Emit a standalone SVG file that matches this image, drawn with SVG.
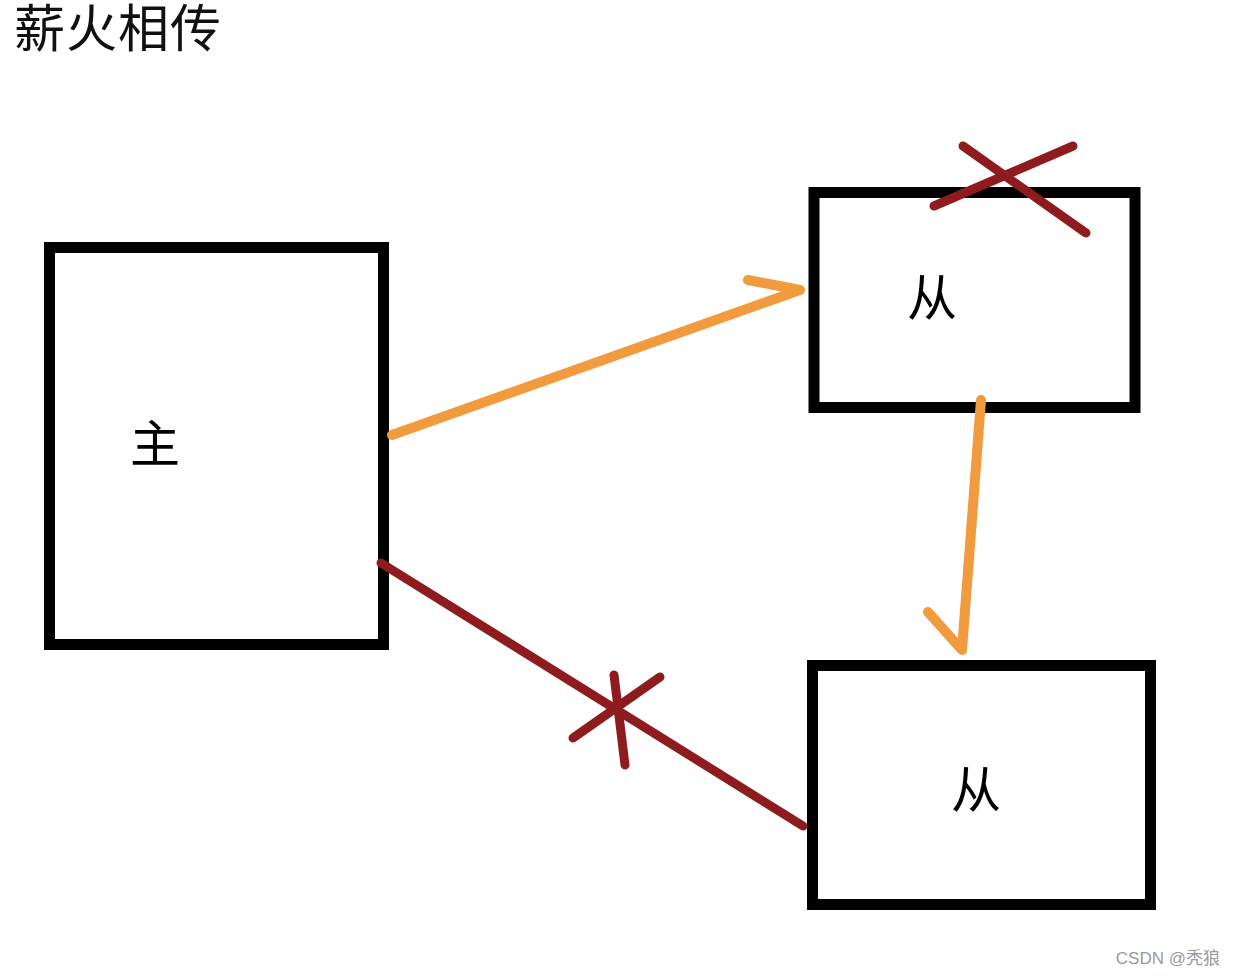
<svg xmlns="http://www.w3.org/2000/svg" width="1236" height="976" viewBox="0 0 1236 976">
<style>
.box{fill:none;stroke:#000;stroke-width:11}
.lbl{font-family:"Noto Sans CJK SC",sans-serif;font-size:50px;fill:#000;text-anchor:middle}
.org{stroke:#F29A3E;stroke-width:10;stroke-linecap:round;stroke-linejoin:round;fill:none}
.red{stroke:#8E1C1E;stroke-width:9;stroke-linecap:round;fill:none}
</style>
<rect width="1236" height="976" fill="#fff"/>
<text x="14" y="47" font-family="Noto Sans CJK SC, sans-serif" font-size="51" letter-spacing="1" fill="#111">薪火相传</text>
<g id="master">
<rect class="box" x="49.5" y="247.5" width="334" height="397"/>
<text class="lbl" x="155" y="462">主</text>
</g>
<g id="slave1">
<rect class="box" x="814" y="192.5" width="321" height="215"/>
<text class="lbl" x="932" y="316">从</text>
</g>
<g id="slave2">
<rect class="box" x="812.5" y="665.5" width="338" height="239"/>
<text class="lbl" x="976" y="808">从</text>
</g>
<g id="connectors">
<path class="org" d="M392,435 L800,290 L748,280"/>
<path class="org" d="M981,400 L962,650 L928,612"/>
<path class="red" d="M381,563 L803,826"/>
<path class="red" d="M573,738 L660,677 M614,675 L625,765"/>
<path class="red" d="M963,146 L1086,233 M934,206 L1073,146"/>
</g>
<text x="1220" y="964" text-anchor="end" font-family="Liberation Sans, Noto Sans CJK SC, sans-serif" font-size="17" fill="#999">CSDN @秃狼</text>
</svg>
